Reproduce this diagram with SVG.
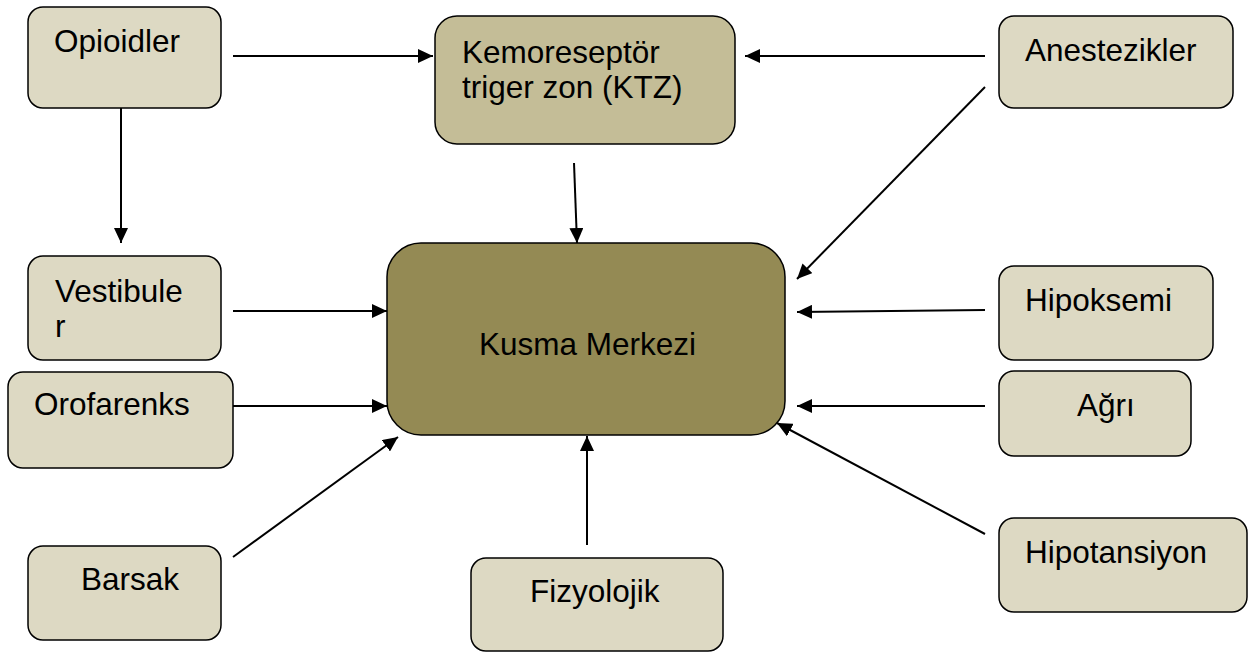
<svg xmlns="http://www.w3.org/2000/svg" width="1252" height="653" viewBox="0 0 1252 653">
<style>
.box{stroke:#000;stroke-width:1.5}
.light{fill:#DDD9C3}
.mid{fill:#C4BD97}
.dark{fill:#948A54}
text{font-family:"Liberation Sans",Arial,sans-serif;font-size:31.5px;fill:#000}
.con line{stroke:#000;stroke-width:2;marker-end:url(#ah)}
</style>
<defs>
<marker id="ah" markerUnits="userSpaceOnUse" markerWidth="16" markerHeight="14" refX="15" refY="7" orient="auto">
<path d="M0,0 L15,7 L0,14 z" fill="#000"/>
</marker>
</defs>
<rect width="1252" height="653" fill="#fff"/>
<g class="con">
<line x1="233" y1="56" x2="433" y2="56"/>
<line x1="121" y1="108" x2="121" y2="243"/>
<line x1="985" y1="56" x2="745" y2="56"/>
<line x1="574" y1="163" x2="577" y2="243"/>
<line x1="985" y1="87" x2="797" y2="279"/>
<line x1="233" y1="311" x2="387" y2="311"/>
<line x1="233" y1="406" x2="387" y2="406"/>
<line x1="233" y1="557" x2="398" y2="437"/>
<line x1="587" y1="545" x2="587" y2="436"/>
<line x1="985" y1="310" x2="797" y2="312"/>
<line x1="985" y1="406" x2="797" y2="406"/>
<line x1="985" y1="534" x2="777" y2="423"/>
</g>
<g id="opioidler"><rect class="box light" x="28" y="7" width="193" height="101" rx="15"/><text x="54" y="52">Opioidler</text></g>
<g id="ktz"><rect class="box mid" x="435" y="16" width="300" height="128" rx="22"/><text x="462" y="63">Kemoreseptör</text><text x="462" y="98">triger zon (KTZ)</text></g>
<g id="anestezikler"><rect class="box light" x="999" y="16" width="234" height="92" rx="15"/><text x="1025" y="61">Anestezikler</text></g>
<g id="kusma"><rect class="box dark" x="387" y="243" width="398" height="192" rx="34"/><text x="479" y="355">Kusma Merkezi</text></g>
<g id="vestibuler"><rect class="box light" x="28" y="256" width="193" height="104" rx="15"/><text x="55" y="302">Vestibule</text><text x="55" y="337">r</text></g>
<g id="orofarenks"><rect class="box light" x="8" y="372" width="225" height="96" rx="15"/><text x="34" y="415">Orofarenks</text></g>
<g id="barsak"><rect class="box light" x="28" y="546" width="193" height="94" rx="15"/><text x="81" y="590">Barsak</text></g>
<g id="fizyolojik"><rect class="box light" x="471" y="558" width="252" height="93" rx="15"/><text x="530" y="602">Fizyolojik</text></g>
<g id="hipoksemi"><rect class="box light" x="999" y="266" width="214" height="94" rx="15"/><text x="1025" y="311">Hipoksemi</text></g>
<g id="agri"><rect class="box light" x="999" y="371" width="192" height="85" rx="15"/><text x="1077" y="416">Ağrı</text></g>
<g id="hipotansiyon"><rect class="box light" x="999" y="518" width="248" height="94" rx="15"/><text x="1025" y="563">Hipotansiyon</text></g>
</svg>
